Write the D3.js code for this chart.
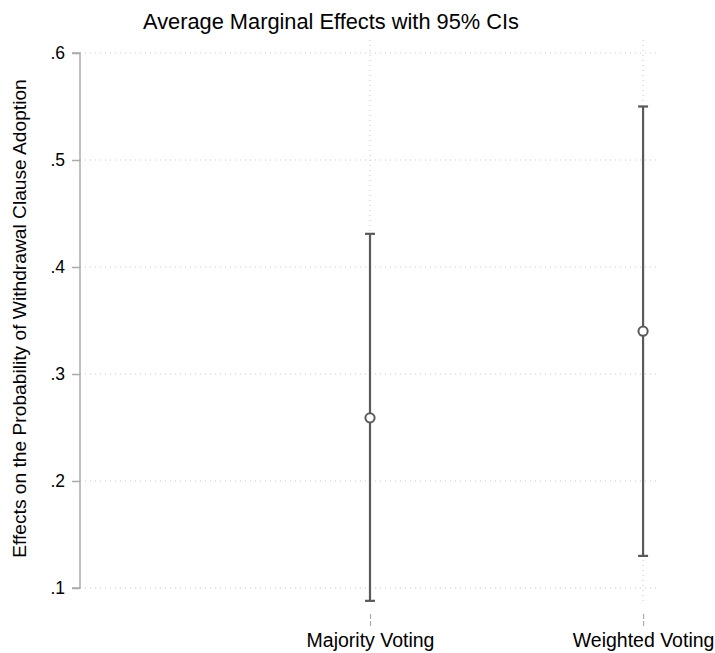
<!DOCTYPE html>
<html>
<head>
<meta charset="utf-8">
<script src="https://cdn.jsdelivr.net/npm/d3@7"></script>
<style>
  body { margin: 0; background: #fff; }
  text { font-family: "Liberation Sans", Arial, sans-serif; fill: #000; }
</style>
</head>
<body>
<svg width="715" height="653"></svg>
<script>
var categories = ["Majority Voting", "Weighted Voting"];
var estimates = [0.259, 0.340];
var lowerCI = [0.088, 0.130];
var upperCI = [0.431, 0.550];
var yTicks = [0.1, 0.2, 0.3, 0.4, 0.5, 0.6];

var svg = d3.select("svg"),
    margin = {top: 53, right: 55, bottom: 65, left: 80},
    width = +svg.attr("width") - margin.left - margin.right,
    height = +svg.attr("height") - margin.top - margin.bottom;

var g = svg.append("g").attr("transform", "translate(" + margin.left + "," + margin.top + ")");

// categories sit at 1 and 2, Stata style padding on the left
var x = d3.scaleLinear().domain([-0.062, 2.062]).range([0, width]);
var y = d3.scaleLinear().domain([0.1, 0.6]).range([height, 0]);

var data = categories.map(function(c, i) {
  return {cat: c, pos: i + 1, est: estimates[i], lo: lowerCI[i], hi: upperCI[i]};
});

// horizontal dotted grid
g.selectAll(".hgrid")
  .data(yTicks)
  .enter().append("line")
    .attr("x1", 0)
    .attr("x2", width)
    .attr("y1", d => y(d))
    .attr("y2", d => y(d))
    .attr("stroke", "#c8c8c8")
    .attr("stroke-width", 1)
    .attr("stroke-dasharray", "1,4");

// vertical dotted grid at the categories
g.selectAll(".vgrid")
  .data(data)
  .enter().append("line")
    .attr("x1", d => x(d.pos))
    .attr("x2", d => x(d.pos))
    .attr("y1", -13)
    .attr("y2", height + 17)
    .attr("stroke", "#c8c8c8")
    .attr("stroke-width", 1)
    .attr("stroke-dasharray", "1,4");

// y axis
var yAxis = g.append("g")
  .call(d3.axisLeft(y).tickValues(yTicks).tickSize(8).tickPadding(7)
    .tickFormat(d => d3.format(".1f")(d).replace(/^0/, "")));
yAxis.select(".domain").attr("stroke", "#ababab").attr("stroke-width", 1.5)
  .attr("d", "M-8," + y(0.6) + "H0V" + y(0.1) + "H-8");
yAxis.selectAll(".tick line").attr("stroke", "#ababab").attr("stroke-width", 1.5);
yAxis.selectAll(".tick text").style("font-size", "17.5px").attr("fill", "#000");

// x axis: ticks and labels only
var xAxis = g.append("g")
  .attr("transform", "translate(0," + (height + 26) + ")")
  .call(d3.axisBottom(x).tickValues(data.map(d => d.pos)).tickSize(12).tickPadding(7)
    .tickFormat((d, i) => categories[i]));
xAxis.select(".domain").remove();
xAxis.selectAll(".tick line").attr("stroke", "#ababab").attr("stroke-width", 1.2)
  .attr("stroke-dasharray", "5,2");
xAxis.selectAll(".tick text").style("font-size", "19.5px").attr("fill", "#000");

// error bars
var bars = g.selectAll(".ci")
  .data(data)
  .enter().append("g");

bars.append("line")
  .attr("x1", d => x(d.pos))
  .attr("x2", d => x(d.pos))
  .attr("y1", d => y(d.hi))
  .attr("y2", d => y(d.lo))
  .attr("stroke", "#5a5a5a")
  .attr("stroke-width", 2.2);

bars.selectAll(".cap")
  .data(d => [{pos: d.pos, v: d.hi}, {pos: d.pos, v: d.lo}])
  .enter().append("line")
    .attr("x1", d => x(d.pos) - 5)
    .attr("x2", d => x(d.pos) + 5)
    .attr("y1", d => y(d.v))
    .attr("y2", d => y(d.v))
    .attr("stroke", "#5a5a5a")
    .attr("stroke-width", 2.2);

bars.append("circle")
  .attr("cx", d => x(d.pos))
  .attr("cy", d => y(d.est))
  .attr("r", 4.6)
  .attr("fill", "#fff")
  .attr("stroke", "#5a5a5a")
  .attr("stroke-width", 2);

// titles
svg.append("text")
  .attr("x", 331)
  .attr("y", 29)
  .attr("text-anchor", "middle")
  .style("font-size", "21.8px")
  .text("Average Marginal Effects with 95% CIs");

svg.append("text")
  .attr("transform", "translate(26," + (margin.top + height / 2 - 2) + ") rotate(-90)")
  .attr("text-anchor", "middle")
  .style("font-size", "19.2px")
  .text("Effects on the Probability of Withdrawal Clause Adoption");
</script>
</body>
</html>
